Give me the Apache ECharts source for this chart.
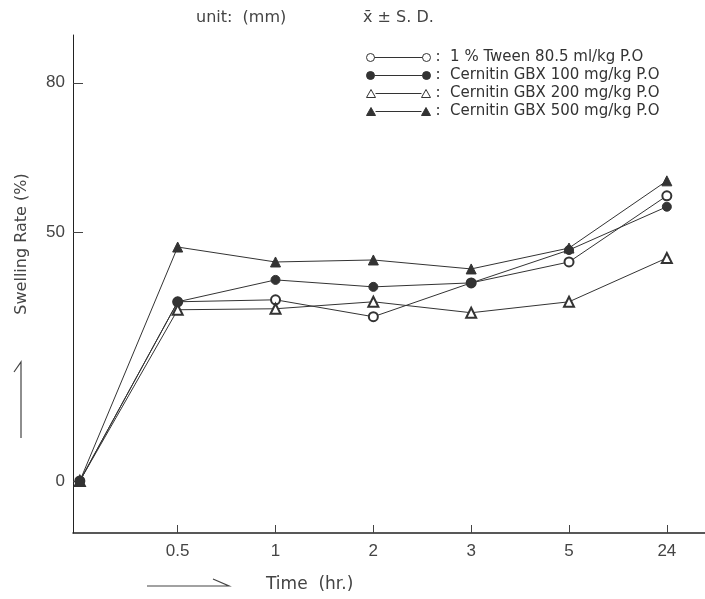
<!DOCTYPE html>
<html>
<head>
<meta charset="utf-8">
<script src="https://cdn.jsdelivr.net/npm/echarts@6/dist/echarts.min.js"></script>
<style>
  html, body { margin: 0; padding: 0; background: #fff; }
  #chart { width: 705px; height: 599px; }
</style>
</head>
<body>
<div id="chart"></div>
<script>
// time points, drawn evenly spaced like the original
var times = ['0', '0.5', '1', '2', '3', '5', '24'];

// swelling rate (%)
var tween = [0, 36.0, 36.4, 33.0, 39.8, 44.0, 57.3];
var gbx100 = [0, 36.0, 40.4, 39.0, 39.8, 46.4, 55.1];
var gbx200 = [0, 34.4, 34.6, 36.0, 33.8, 36.0, 44.8];
var gbx500 = [0, 47.0, 44.0, 44.4, 42.6, 46.8, 60.3];

var names = [
  '1 % Tween 80.5 ml/kg P.O',
  'Cernitin GBX 100 mg/kg P.O',
  'Cernitin GBX 200 mg/kg P.O',
  'Cernitin GBX 500 mg/kg P.O'
];

var yTicks = [0, 50, 80];
var xTicks = [1, 2, 3, 4, 5, 6];

var ink = '#333';
var font = 'DejaVu Sans, sans-serif';
var numFont = 'Liberation Sans, Arial, sans-serif';

function pairs(arr) {
  return arr.map(function (v, i) { return [i, v]; });
}

// legend icons: symbol --- symbol
var circleIcon = 'path://M0,5a4,4 0 1,0 8,0a4,4 0 1,0 -8,0Z M56,5a4,4 0 1,0 8,0a4,4 0 1,0 -8,0Z M8,5L56,5';
var triIcon = 'path://M0,9L4.5,1L9,9Z M55,9L59.5,1L64,9Z M9,5L55,5';

var dom = document.getElementById('chart');
var myChart = echarts.init(dom, null, { renderer: 'canvas' });

function makeSeries(name, arr, symbol, size) {
  return {
    type: 'line',
    name: name,
    data: pairs(arr),
    symbol: symbol,
    symbolSize: size,
    showAllSymbol: true,
    lineStyle: { color: ink, width: 1 },
    itemStyle: { color: ink, borderColor: ink, borderWidth: 1 },
    emphasis: { disabled: true },
    z: 3
  };
}

var option = {
  backgroundColor: '#fff',
  animation: false,
  title: [
    { text: 'unit:  (mm)', left: 196, top: 10, padding: 0,
      textStyle: { fontFamily: font, fontSize: 16, fontWeight: 'normal', color: '#444' } },
    { text: 'x\u0304 \u00b1 S. D.', left: 363, top: 10, padding: 0,
      textStyle: { fontFamily: font, fontSize: 16, fontWeight: 'normal', color: '#444' } }
  ],
  legend: {
    orient: 'vertical',
    left: 366,
    top: 50,
    padding: 0,
    itemWidth: 64,
    itemHeight: 10,
    itemGap: 3,
    selectedMode: false,
    formatter: function (n) { return ':  ' + n; },
    textStyle: { fontFamily: font, fontSize: 15, color: ink },
    data: [
      { name: names[0], icon: circleIcon, itemStyle: { color: '#fff', borderColor: ink, borderWidth: 1 } },
      { name: names[1], icon: circleIcon, itemStyle: { color: ink, borderColor: ink, borderWidth: 1 } },
      { name: names[2], icon: triIcon, itemStyle: { color: '#fff', borderColor: ink, borderWidth: 1 } },
      { name: names[3], icon: triIcon, itemStyle: { color: ink, borderColor: ink, borderWidth: 1 } }
    ]
  },
  grid: { left: 73, right: 0, top: 35, bottom: 66, containLabel: false },
  xAxis: {
    type: 'value',
    min: -0.07,
    max: 6.39,
    splitLine: { show: false },
    axisLine: { onZero: false, lineStyle: { color: '#222', width: 1.5 } },
    axisTick: { inside: true, length: 8, customValues: xTicks, lineStyle: { color: '#444' } },
    axisLabel: {
      customValues: xTicks,
      margin: 10,
      fontFamily: numFont,
      fontSize: 17,
      color: '#444',
      formatter: function (v) { return times[Math.round(v)]; }
    }
  },
  yAxis: {
    type: 'value',
    min: -10.45,
    max: 89.6,
    splitLine: { show: false },
    axisLine: { onZero: false, lineStyle: { color: '#222', width: 1 } },
    axisTick: { inside: true, length: 10, customValues: yTicks, lineStyle: { color: '#444' } },
    axisLabel: { customValues: yTicks, margin: 8, fontFamily: numFont, fontSize: 17, color: '#444' }
  },
  graphic: [
    { type: 'text', x: 22, y: 244, rotation: Math.PI / 2,
      style: { text: 'Swelling Rate (%)', fontFamily: font, fontSize: 16, fill: '#444',
        textAlign: 'center', textVerticalAlign: 'middle' } },
    { type: 'polyline', shape: { points: [[21, 438], [21, 362], [14, 372]] },
      style: { stroke: '#444', lineWidth: 1.2, fill: null } },
    { type: 'text', x: 266, y: 585,
      style: { text: 'Time  (hr.)', fontFamily: font, fontSize: 17, fill: '#444',
        textVerticalAlign: 'middle' } },
    { type: 'polyline', shape: { points: [[147, 586], [229, 586], [213, 579]] },
      style: { stroke: '#444', lineWidth: 1.2, fill: null } }
  ],
  series: [
    makeSeries(names[0], tween, 'emptyCircle', 9),
    makeSeries(names[1], gbx100, 'circle', 9),
    makeSeries(names[2], gbx200, 'emptyTriangle', 10),
    makeSeries(names[3], gbx500, 'triangle', 10)
  ]
};

myChart.setOption(option);
</script>
</body>
</html>
